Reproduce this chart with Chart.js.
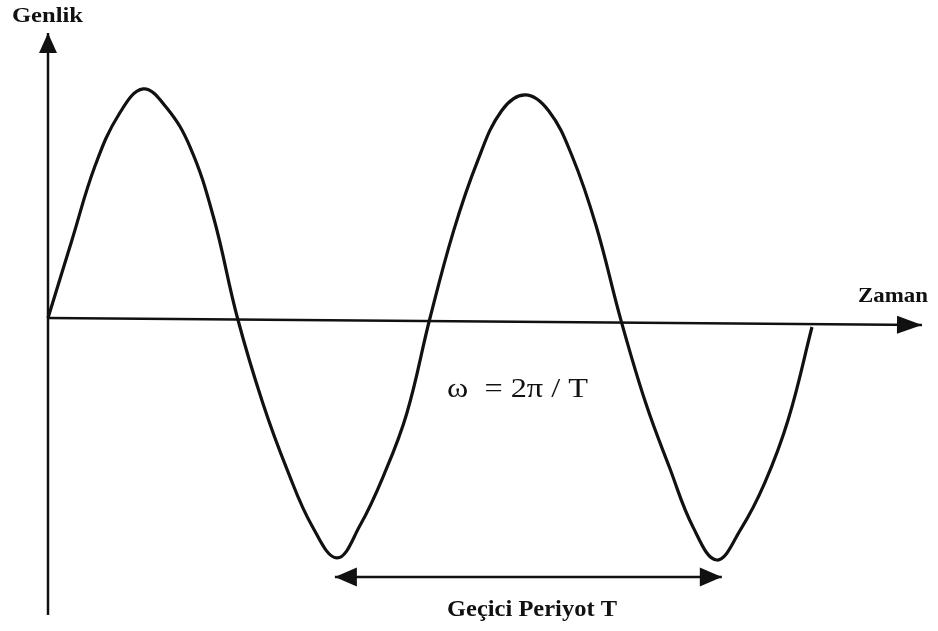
<!DOCTYPE html>
<html>
<head>
<meta charset="utf-8">
<script src="https://cdn.jsdelivr.net/npm/chart.js@4.4.1/dist/chart.umd.min.js"></script>
<style>
  body { margin: 0; background: #fff; }
  #wrap { width: 938px; height: 631px; }
</style>
</head>
<body>
<div id="wrap"><canvas id="chartSine" width="938" height="631"></canvas></div>
<script>
// time in periods (T = 1), amplitude normalised to the first peak
const waveTime = [
  0, 0.062, 0.124, 0.187, 0.249, 0.310, 0.372, 0.433,
  0.496, 0.562, 0.627, 0.692, 0.757, 0.817, 0.878, 0.939,
  1.000, 1.062, 1.124, 1.187, 1.249, 1.311, 1.373, 1.435,
  1.500, 1.565, 1.627, 1.689, 1.751, 1.813, 1.876, 1.938, 2.000];
const waveAmp = [
  0, 0.335, 0.665, 0.889, 0.996, 0.915, 0.743, 0.44,
  0, -0.368, -0.663, -0.906, -1.043, -0.901, -0.687, -0.416,
  0, 0.38, 0.68, 0.90, 0.970, 0.90, 0.70, 0.40,
  -0.01, -0.371, -0.65, -0.91, -1.052, -0.92, -0.718, -0.44, -0.039];

const timeRange = [0, 2.288];
const ampRange = [-1.291, 1.239];
const timeAxisEnd = [0, -0.03];     // amplitude of the time axis at its start / end (scan tilt)
const periodSpan = [0.751, 1.764];  // trough to trough
const periodLevel = -1.126;

const labels = {
  y: "Genlik",
  x: "Zaman",
  omega: "ω  = 2π / T",
  period: "Geçici Periyot T",
};

const ink = "#111";

const toPts = (xs, ys) => xs.map((x, i) => ({ x: x, y: ys[i] }));

const data = {
  datasets: [
    {
      label: "wave",
      data: toPts(waveTime, waveAmp),
      borderColor: ink,
      borderWidth: 3.2,
      tension: 0.4,
      capBezierPoints: false,
      pointRadius: 0,
      clip: false,
    },
    {
      label: "timeAxis",
      data: toPts(timeRange, timeAxisEnd),
      borderColor: ink,
      borderWidth: 2.5,
      pointRadius: 0,
      clip: false,
    },
    {
      label: "ampAxis",
      data: toPts([0, 0], ampRange),
      borderColor: ink,
      borderWidth: 2.5,
      pointRadius: 0,
      clip: false,
    },
    {
      label: "period",
      data: toPts(periodSpan, [periodLevel, periodLevel]),
      borderColor: ink,
      borderWidth: 2.5,
      pointRadius: 0,
      clip: false,
    },
  ],
};

function arrowHead(ctx, tx, ty, dx, dy, len, half) {
  const n = Math.hypot(dx, dy);
  dx /= n; dy /= n;
  const bx = tx - dx * len, by = ty - dy * len;
  ctx.beginPath();
  ctx.moveTo(tx, ty);
  ctx.lineTo(bx - dy * half, by + dx * half);
  ctx.lineTo(bx + dy * half, by - dx * half);
  ctx.closePath();
  ctx.fill();
}

// draw text squeezed/stretched to a given width
function fitText(ctx, txt, x, y, w) {
  const m = ctx.measureText(txt).width;
  ctx.save();
  ctx.translate(x, y);
  ctx.scale(w / m, 1);
  ctx.fillText(txt, 0, 0);
  ctx.restore();
}

const decor = {
  id: "decor",
  afterDatasetsDraw(chart) {
    const { ctx, scales } = chart;
    const sx = scales.x, sy = scales.y;
    ctx.save();
    ctx.fillStyle = ink;

    // axis arrows
    const x0 = sx.getPixelForValue(0);
    arrowHead(ctx, x0, sy.getPixelForValue(ampRange[1]), 0, -1, 20, 9);
    const xe = sx.getPixelForValue(timeRange[1]);
    const ye = sy.getPixelForValue(timeAxisEnd[1]);
    arrowHead(ctx, xe, ye, 1, 0.008, 25, 9);

    // period arrows
    const py = sy.getPixelForValue(periodLevel);
    arrowHead(ctx, sx.getPixelForValue(periodSpan[0]), py, -1, 0, 22, 9.5);
    arrowHead(ctx, sx.getPixelForValue(periodSpan[1]), py, 1, 0, 22, 9.5);

    // texts
    ctx.textBaseline = "alphabetic";
    ctx.textAlign = "left";
    ctx.font = "bold 22px 'Liberation Serif', 'Times New Roman', serif";
    fitText(ctx, labels.y, 12, 22, 71);
    fitText(ctx, labels.x, 858, 302, 70);
    ctx.font = "bold 23px 'Liberation Serif', 'Times New Roman', serif";
    fitText(ctx, labels.period, 447, 616, 170);
    ctx.font = "28px 'Liberation Serif', 'Times New Roman', serif";
    fitText(ctx, labels.omega, 447, 397, 141);
    ctx.restore();
  },
};

const config = {
  type: "line",
  data,
  options: {
    responsive: false,
    animation: false,
    events: [],
    layout: { padding: { left: 48, right: 16, top: 33, bottom: 16 } },
    plugins: {
      legend: { display: false },
      tooltip: { enabled: false },
    },
    scales: {
      x: { type: "linear", display: false, min: timeRange[0], max: timeRange[1] },
      y: { type: "linear", display: false, min: ampRange[0], max: ampRange[1] },
    },
  },
  plugins: [decor],
};

const chartSine = new Chart(document.getElementById("chartSine"), config);
</script>
</body>
</html>
